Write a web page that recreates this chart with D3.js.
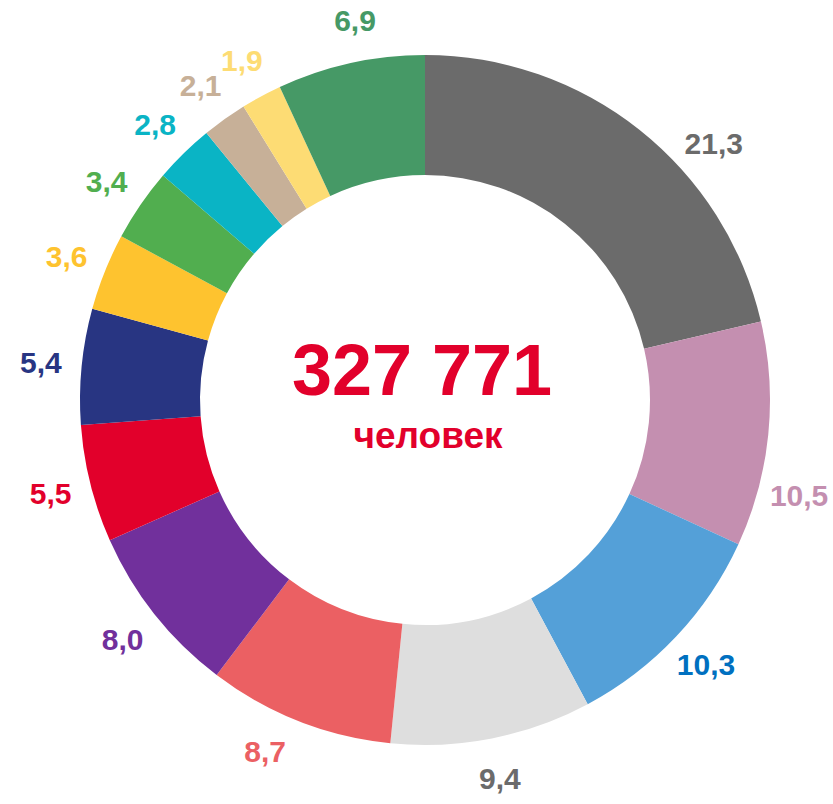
<!DOCTYPE html>
<html lang="ru">
<head>
<meta charset="UTF-8">
<title>327 771 человек</title>
<script src="https://d3js.org/d3.v7.min.js"></script>
<style>
  body { margin: 0; background: #fff; }
  text { font-family: "Liberation Sans", Arial, sans-serif; font-weight: bold; }
</style>
</head>
<body>
<div id="chart"></div>
<script>
  // доли, %
  const values = [21.3, 10.5, 10.3, 9.4, 8.7, 8.0, 5.5, 5.4, 3.6, 3.4, 2.8, 2.1, 1.9, 6.9];
  const sliceColors = ["#6b6b6b", "#c48fb0", "#54a0d8", "#dedede", "#eb6063", "#71309c", "#e2002b",
                       "#283582", "#fec32f", "#51ae4f", "#0ab4c5", "#c7b098", "#fddc74", "#469966"];
  const labelColors = ["#6b6b6b", "#c48fb0", "#0070c0", "#6b6b6b", "#eb6063", "#71309c", "#e2002b",
                       "#283582", "#fec32f", "#51ae4f", "#0ab4c5", "#c7b098", "#fddc74", "#469966"];
  const total = "327 771";
  const unit = "человек";

  const width = 833, height = 804;
  const cx = 425, cy = 400;
  const outer = 345, inner = 225, labelR = 386;

  // small angle nudges (deg) for labels that sit off the slice mid
  const nudge = { 0: 10, 1: 8.5, 4: 3, 13: 2 };

  const svg = d3.select("#chart").append("svg")
      .attr("width", width)
      .attr("height", height);

  const g = svg.append("g").attr("transform", `translate(${cx},${cy})`);

  const pie = d3.pie().sort(null).value(d => d);
  const arcs = pie(values);
  const arc = d3.arc().innerRadius(inner).outerRadius(outer);

  g.selectAll("path")
    .data(arcs)
    .enter().append("path")
    .attr("d", arc)
    .attr("fill", (d, i) => sliceColors[i]);

  const fmt = v => v.toFixed(1).replace(".", ",");
  const mid = (d, i) => (d.startAngle + d.endAngle) / 2 + (nudge[i] || 0) * Math.PI / 180;

  g.selectAll("text.lbl")
    .data(arcs)
    .enter().append("text")
    .attr("class", "lbl")
    .attr("x", (d, i) => labelR * Math.sin(mid(d, i)))
    .attr("y", (d, i) => -labelR * Math.cos(mid(d, i)))
    .attr("dy", "0.35em")
    .attr("text-anchor", "middle")
    .attr("font-size", 30)
    .attr("fill", (d, i) => labelColors[i])
    .text(d => fmt(d.data));

  g.append("text")
    .attr("x", -3)
    .attr("y", -5)
    .attr("text-anchor", "middle")
    .attr("font-size", 72)
    .attr("fill", "#e2002b")
    .text(total);

  g.append("text")
    .attr("x", 3)
    .attr("y", 48)
    .attr("text-anchor", "middle")
    .attr("font-size", 37)
    .attr("fill", "#e2002b")
    .text(unit);
</script>
</body>
</html>
